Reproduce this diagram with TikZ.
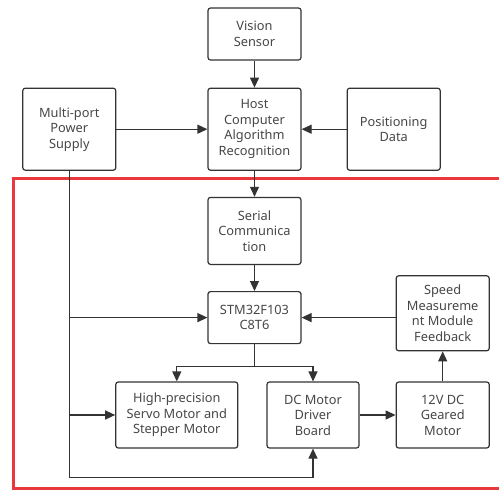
\documentclass[tikz,border=0pt]{standalone}
\usepackage{fontspec}
\setmainfont{Noto Sans}
\usetikzlibrary{arrows.meta,positioning}
\definecolor{ink}{HTML}{333333}
\definecolor{frame}{HTML}{E8383D}
\tikzset{
  box/.style={rectangle, rounded corners=2.5pt, draw=ink, line width=1.2pt, fill=white,
              align=center, font=\fontsize{12.8}{15.5}\selectfont, text=ink!90,
              inner sep=1pt, minimum width=93pt},
  fl/.style={-{Triangle[length=10pt,width=9pt]}, draw=ink, line width=1.2pt},
  ln/.style={draw=ink, line width=1.2pt},
  border/.style={draw=frame, line width=3pt}
}

\begin{document}
\begin{tikzpicture}[x=1pt,y=-1pt]
  \useasboundingbox (0,0) rectangle (499,491);

  % upper part
  \node[box, minimum height=52pt] (vision) at (254.5,34) {Vision\\Sensor};
  \node[box, minimum height=82pt, below=27pt of vision] (host) {Host\\Computer\\Algorithm\\Recognition};
  \node[box, minimum height=82pt, left=91pt of host] (power) {Multi-port\\Power\\Supply};
  \node[box, minimum height=82pt, right=45pt of host] (posdata) {Positioning\\Data};
  \draw[fl] (vision) -- (host);
  \draw[fl] (power) -- (host);
  \draw[fl] (posdata) -- (host);

  % lower-level controller
  \draw[border] (502,178) -- (13,178) -- (13,488) -- (502,488);
  \node[box, minimum height=67pt, below=26pt of host] (serial) {Serial\\Communica\\tion};
  \node[box, minimum height=52pt, below=26pt of serial] (stm) {STM32F103\\C8T6};
  \node[box, minimum height=66pt, minimum width=92pt] (driver) at (313,415) {DC Motor\\Driver\\Board};
  \node[box, minimum height=66pt, minimum width=122pt, left=28pt of driver] (servo) {High-precision\\Servo Motor and\\Stepper Motor};
  \node[box, minimum height=66pt, right=36pt of driver] (motor) {12V DC\\Geared\\Motor};
  \node[box, minimum height=75pt, above=30pt of motor] (speed) {Speed\\Measureme\\nt Module\\Feedback};

  \draw[fl] (host) -- (serial);
  \draw[fl] (serial) -- (stm);
  \draw[fl] (speed.west |- stm.east) -- (stm.east);
  \draw[fl] (stm.south) -- ++(0,22) -| (servo.north);
  \draw[fl] (stm.south) -- ++(0,22) -| (driver.north);
  \draw[fl] (driver) -- (motor);
  \draw[fl] (motor) -- (speed);

  % power lines
  \draw[fl] (power.south) |- (stm.west);
  \draw[fl] (power.south) |- (servo.west);
  \draw[fl] (power.south) -- ++(0,307) -| (driver.south);
\end{tikzpicture}
\end{document}
